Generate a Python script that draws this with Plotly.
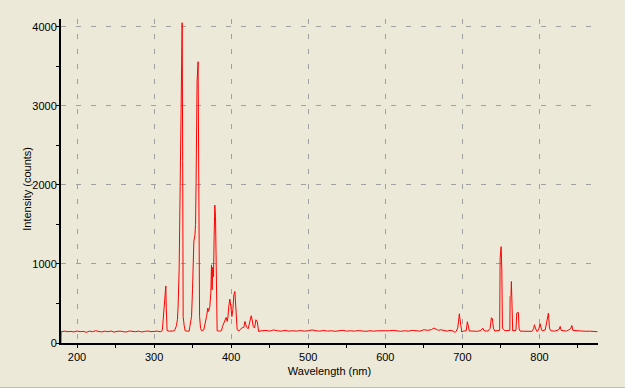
import plotly.graph_objects as go

# Wavelength (nm) and intensity (counts)
wavelength = [
    179.2, 179.4, 184, 188, 192, 196, 200, 204, 208, 212, 216, 220, 224, 228, 232, 236,
    240, 244, 248, 252, 256, 260, 264, 268, 272, 276, 280, 284, 288, 292, 296, 300,
    304, 308,
    310.0, 310.8, 311.7, 312.9, 313.9, 314.5, 315.2, 315.8, 316.9, 320, 323, 325.6,
    326.9, 328.0, 329.1, 330.3, 331.2, 332.5, 333.5, 334.3, 335.1, 336.4, 337.1, 337.7,
    339.0, 340.3, 343, 345.5, 346.4, 347.5, 348.6, 349.9, 351.6, 352.9, 353.8, 354.5,
    355.8, 357.1, 357.7, 359.0, 360.3, 361.6, 364.5, 366.2, 368.1, 369.7, 370.6, 372.3,
    373.6, 374.5, 375.3, 376.2, 377.1, 377.9, 378.8, 379.7, 380.5, 381.0, 381.8, 385,
    387.5, 388.8, 390.5, 392.2, 393.5, 394.8, 395.7, 397.0, 398.3, 399.6, 400.9, 402.2,
    403.5, 404.8, 406.1, 407.8, 410.4, 413.5, 416.5, 417.9, 419.1, 420.0, 422.1, 424.3,
    426.0, 427.3, 428.6, 430.4, 432.1, 433.8, 435.6,
    440, 445, 450, 455, 460, 465, 470, 475, 480, 485, 490, 495, 500, 505, 510, 515,
    520, 525, 530, 535, 540, 545, 550, 555, 560, 565, 570, 575, 580, 585, 590, 595,
    600, 605, 610, 615, 620, 625, 630, 635, 640, 645, 650, 655, 660, 663, 666, 669,
    672, 676, 680, 684, 688, 690.5, 692, 694, 695, 696.1, 697.0, 697.9, 699.2, 701,
    705, 706.5, 707.4, 709.1, 715, 720, 724, 726.5, 728, 733, 736, 737.7, 739.0, 740.3,
    742, 747, 748.4, 749.0, 750.3, 751.2, 752.0, 755, 761.6, 762.0, 763.1, 763.6, 764.5,
    765.3, 769.5, 770.6, 772.7, 773.6, 775, 780, 785, 790, 792.5, 793.5, 794.8, 796.6,
    798.7, 800.9, 802.2, 803.5, 807.5, 808.7, 810.4, 811.7, 813.0, 814.8, 820, 825.5,
    826.9, 828.2, 835, 840.5, 842.1, 843.4, 850, 855, 860, 865, 870, 875.3,
]
intensity = [
    0, 143, 150, 143, 147, 140, 152, 143, 148, 135, 150, 143, 155, 145, 140, 150,
    143, 152, 138, 147, 150, 143, 140, 152, 145, 143, 150, 140, 147, 152, 143, 148,
    150, 143,
    150, 175, 303, 450, 673, 690, 722, 446, 155, 150, 148, 152,
    165, 190, 222, 300, 471, 925, 1700, 2500, 3500, 4054, 2307, 336,
    222, 155, 150, 150, 210, 260, 336, 694, 1290, 1355, 1500, 2045,
    3320, 3560, 1515, 336, 184, 155, 168, 231, 336, 442, 400, 462,
    631, 989, 673, 960, 841, 1346, 1746, 1598, 800, 273, 155, 150,
    155, 210, 260, 294, 324, 273, 316, 471, 556, 462, 336, 420,
    610, 651, 471, 168, 155, 189, 200, 273, 231, 200, 180, 303,
    345, 294, 210, 189, 294, 273, 147,
    155, 160, 150, 165, 155, 150, 160, 150, 155, 150, 158, 150, 155, 165, 155, 150,
    160, 150, 155, 148, 155, 160, 150, 155, 150, 158, 152, 148, 155, 150, 155, 152,
    150, 155, 160, 152, 148, 155, 150, 160, 152, 150, 168, 160, 170, 189, 175, 160,
    168, 155, 150, 160, 152, 134, 150, 190, 260, 370, 300, 200, 139, 150,
    155, 269, 220, 152, 150, 148, 160, 189, 155, 150, 185, 320, 307, 189,
    152, 155, 160, 1073, 1220, 925, 189, 155, 160, 588, 600, 778, 379,
    155, 160, 379, 387, 180, 150, 147, 150, 147, 180, 231, 189, 147,
    160, 244, 189, 155, 165, 244, 357, 379, 189, 155, 150, 170,
    210, 160, 150, 180, 222, 160, 155, 150, 148, 150, 147, 143,
]

x_range = [179.2, 876]
y_range = [0, 4101]
x_title = "Wavelength (nm)"
y_title = "Intensity (counts)"

BG = "#ECE9D8"
GRID = "#A0A0A0"
FONT = "Liberation Sans"

fig = go.Figure()
fig.add_trace(go.Scatter(
    x=wavelength, y=intensity, mode="lines",
    line=dict(color="#FF0000", width=1),
    hoverinfo="skip", showlegend=False,
))

axis_common = dict(
    showline=True, linecolor="black", linewidth=2,
    ticks="outside", ticklen=3, tickwidth=1, tickcolor="black",
    showgrid=True, gridcolor=GRID, gridwidth=1, griddash="5px,10px",
    zeroline=False,
    tickfont=dict(family=FONT, size=11, color="black"),
)

fig.update_layout(
    width=625, height=388, autosize=False,
    paper_bgcolor=BG, plot_bgcolor=BG,
    margin=dict(l=61, r=27, t=19, b=45),
    font=dict(family=FONT, size=11, color="black"),
    xaxis=dict(
        range=x_range, dtick=100, tick0=0,
        minor=dict(dtick=50, ticks="outside", ticklen=3, tickcolor="black", showgrid=False),
        title=dict(text=x_title, standoff=5, font=dict(family=FONT, size=11, color="black")),
        **axis_common,
    ),
    yaxis=dict(
        range=y_range, dtick=1000, tick0=0, ticklabelstandoff=-3,
        minor=dict(dtick=500, ticks="outside", ticklen=3, tickcolor="black", showgrid=False),
        **axis_common,
    ),
    # overlay axes to give ticks that cross the axis line
    xaxis2=dict(
        overlaying="x", anchor="y", side="bottom", range=x_range,
        dtick=100, tick0=0, ticks="inside", ticklen=3, tickcolor="black",
        minor=dict(dtick=50, ticks="inside", ticklen=3, tickcolor="black"),
        showticklabels=False, showgrid=False, zeroline=False, showline=False,
    ),
    yaxis2=dict(
        overlaying="y", anchor="x", side="left", range=y_range,
        dtick=1000, tick0=0, ticks="inside", ticklen=3, tickcolor="black",
        minor=dict(dtick=500, ticks="inside", ticklen=3, tickcolor="black"),
        showticklabels=False, showgrid=False, zeroline=False, showline=False,
    ),
    annotations=[dict(
        text=y_title, textangle=-90, showarrow=False,
        xref="paper", yref="paper", x=-0.064, y=0.475,
        xanchor="center", yanchor="middle",
        font=dict(family=FONT, size=11, color="black"),
    )],
    shapes=[dict(
        type="line", xref="paper", yref="paper",
        x0=-0.12, x1=1.06, y0=-0.138, y1=-0.138,
        line=dict(color="#A5B7C9", width=1),
    )],
)

fig.write_html("out.html")
